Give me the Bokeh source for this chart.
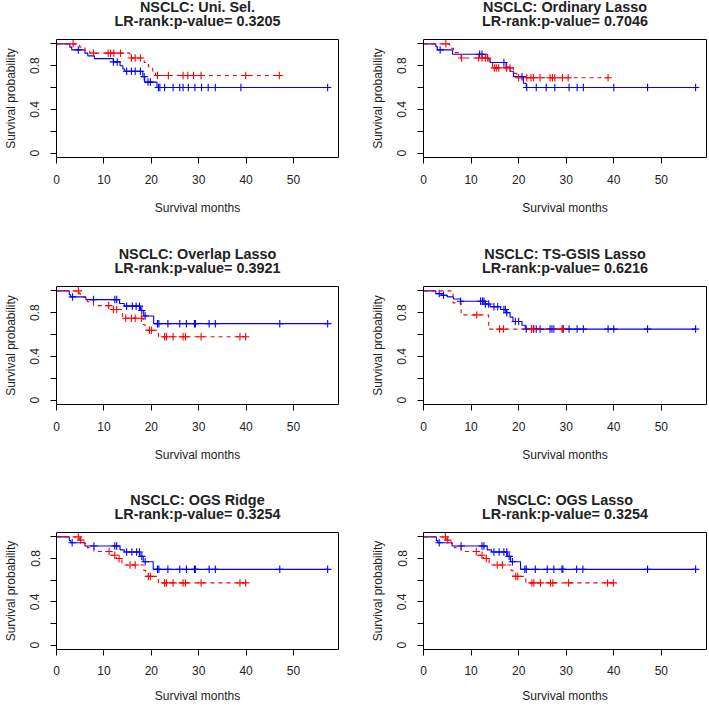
import numpy as np
from bokeh.plotting import figure
from bokeh.models import Range1d, FixedTicker
from bokeh.layouts import column, row
from bokeh.core.properties import value
from bokeh.embed import file_html
from bokeh.resources import INLINE

FONT = "Liberation Sans"
TEXT_COLOR = "#222222"

panel_names = ["NSCLC: Uni. Sel.", "NSCLC: Ordinary Lasso", "NSCLC: Overlap Lasso",
               "NSCLC: TS-GSIS Lasso", "NSCLC: OGS Ridge", "NSCLC: OGS Lasso"]
p_values = ["0.3205", "0.7046", "0.3921", "0.6216", "0.3254", "0.3254"]

x_ticks = [0, 10, 20, 30, 40, 50]
y_label_ticks = [0.0, 0.4, 0.8]
y_other_ticks = [0.2, 0.6, 1.0]
x_max = 57.2

# ---- Panel 1: Uni. Sel.
uni_blue_t = [2.8, 3.2, 6.0, 6.6, 8.0, 12.0, 13.4, 14.0, 14.4, 18.2, 18.6, 21.2]
uni_blue_s = [0.97, 0.945, 0.915, 0.89, 0.865, 0.835, 0.80, 0.77, 0.75, 0.70, 0.65, 0.60]
uni_blue_c = [4.6, 12.0, 12.8, 14.8, 15.8, 16.6, 17.7, 18.5, 19.3, 19.8, 21.5, 21.8, 22.8,
              24.6, 26.0, 26.7, 27.8, 29.2, 30.6, 32.0, 33.5, 38.9, 57.2]
uni_red_t = [4.9, 6.0, 7.0, 15.5, 18.5, 19.4, 20.3, 20.9]
uni_red_s = [0.97, 0.94, 0.915, 0.87, 0.83, 0.79, 0.75, 0.71]
uni_red_c = [3.5, 7.8, 10.9, 11.4, 12.1, 13.5, 15.8, 16.6, 17.7, 21.3, 23.6, 26.7, 27.7,
             28.9, 30.5, 39.9, 47.0]

# ---- Panel 2: Ordinary Lasso
ord_blue_t = [2.6, 2.9, 6.1, 13.4, 14.0, 17.4, 18.2, 18.9, 21.0, 21.6]
ord_blue_s = [0.975, 0.945, 0.905, 0.865, 0.83, 0.785, 0.75, 0.70, 0.64, 0.60]
ord_blue_c = [3.5, 11.8, 12.3, 16.9, 17.4, 20.7, 21.7, 23.7, 25.8, 27.6, 30.6, 32.3, 33.6,
              40.0, 47.1, 57.2]
ord_red_t = [5.5, 6.3, 7.9, 13.8, 14.5, 18.9, 19.6]
ord_red_s = [0.96, 0.92, 0.87, 0.83, 0.78, 0.73, 0.69]
ord_red_c = [4.7, 8.0, 11.6, 12.3, 13.0, 13.5, 14.9, 15.3, 15.8, 17.5, 18.2, 20.0, 21.7,
             22.6, 23.1, 24.5, 26.6, 27.1, 27.6, 29.2, 30.4, 38.8]

# ---- Panel 3: Overlap Lasso
ovl_blue_t = [2.7, 3.0, 6.2, 13.3, 14.3, 17.7, 18.4, 20.5]
ovl_blue_s = [0.965, 0.945, 0.92, 0.885, 0.86, 0.82, 0.77, 0.70]
ovl_blue_c = [3.4, 7.8, 12.3, 12.7, 14.8, 16.0, 16.8, 17.5, 18.0, 18.7, 21.3, 21.6, 23.5,
              26.0, 27.4, 29.1, 29.3, 32.2, 33.5, 47.1, 57.2]
ovl_red_t = [4.9, 5.6, 6.5, 7.8, 11.4, 13.9, 18.3, 18.7, 21.5]
ovl_red_s = [0.97, 0.94, 0.90, 0.865, 0.83, 0.75, 0.69, 0.64, 0.58]
ovl_red_c = [4.6, 11.0, 12.0, 12.7, 14.6, 15.8, 16.6, 17.9, 19.6, 20.0, 22.8, 23.2, 24.6,
             26.7, 27.2, 30.5, 38.7, 39.9]

# ---- Panel 4: TS-GSIS Lasso
tsg_blue_t = [2.6, 3.8, 5.0, 6.3, 7.8, 13.0, 14.0, 16.2, 17.5, 18.2, 18.8, 20.7, 21.4]
tsg_blue_s = [0.975, 0.96, 0.945, 0.925, 0.905, 0.88, 0.855, 0.83, 0.80, 0.76, 0.72, 0.685, 0.65]
tsg_blue_c = [3.3, 4.2, 7.8, 12.0, 12.4, 12.7, 13.0, 13.7, 14.8, 15.6, 16.9, 17.2, 17.5,
              19.3, 20.0, 21.6, 22.7, 23.1, 23.7, 24.5, 26.6, 27.0, 27.4, 29.4, 30.6,
              32.3, 33.6, 38.8, 40.0, 47.1, 57.2]
tsg_red_t = [6.2, 7.9, 13.7]
tsg_red_s = [0.89, 0.78, 0.65]
tsg_red_c = [11.2, 16.0, 16.8, 22.7, 23.2, 29.1, 29.3]

# ---- Panels 5 and 6: OGS Ridge / OGS Lasso
ogs_blue_t = [2.7, 3.0, 6.0, 13.4, 14.3, 17.6, 18.3, 20.4]
ogs_blue_s = [0.965, 0.945, 0.915, 0.88, 0.86, 0.82, 0.77, 0.70]
ogs_blue_c = [3.3, 7.9, 12.3, 12.7, 14.8, 15.9, 16.9, 17.5, 18.0, 18.7, 21.3, 21.6, 23.5,
              26.0, 27.4, 29.1, 29.3, 32.2, 33.5, 47.1, 57.2]
ogs_red_t = [4.9, 5.8, 6.5, 7.9, 11.3, 12.6, 13.8, 18.4, 18.8, 21.5]
ogs_red_s = [0.97, 0.94, 0.90, 0.865, 0.83, 0.80, 0.74, 0.69, 0.635, 0.575]
ogs_red_c = [4.6, 5.1, 11.1, 12.3, 13.2, 15.5, 16.6, 19.4, 19.8, 22.8, 23.2, 24.6, 26.7,
             27.2, 30.5, 38.7, 39.9]

curves = [
    (uni_blue_t, uni_blue_s, uni_blue_c, uni_red_t, uni_red_s, uni_red_c),
    (ord_blue_t, ord_blue_s, ord_blue_c, ord_red_t, ord_red_s, ord_red_c),
    (ovl_blue_t, ovl_blue_s, ovl_blue_c, ovl_red_t, ovl_red_s, ovl_red_c),
    (tsg_blue_t, tsg_blue_s, tsg_blue_c, tsg_red_t, tsg_red_s, tsg_red_c),
    (ogs_blue_t, ogs_blue_s, ogs_blue_c, ogs_red_t, ogs_red_s, ogs_red_c),
    (ogs_blue_t, ogs_blue_s, ogs_blue_c, ogs_red_t, ogs_red_s, ogs_red_c),
]

X_END = x_max * 1.04
Y_START, Y_END = -0.04, 1.04

# layout (pixels)
STRIP_H = 38                  # title strip height
TITLE_LINE_Y = (32, 18)       # line centres above the strip bottom
COLS = [dict(width=354, ml=56, mr=16), dict(width=355, ml=69, mr=3)]
ROWS = [dict(h=209, mb=90, xs1=11, xs2=14),
        dict(h=208, mb=89, xs1=11, xs2=14),
        dict(h=174, mb=56, xs1=10, xs2=11)]


def km_value(times, surv, at):
    times = np.asarray(times)
    surv = np.concatenate([[1.0], np.asarray(surv)])
    idx = np.searchsorted(times, np.asarray(at), side="right")
    return surv[idx]


def draw_curve(p, times, surv, cens, color, dash):
    end = max(max(cens), max(times))
    xs = [0.0] + list(times) + [end]
    ys = [1.0] + list(surv) + [surv[-1]]
    p.step(xs, ys, mode="after", line_color=color, line_width=1.1, line_dash=dash)
    p.scatter(cens, km_value(times, surv, cens), marker="cross", size=7.5,
              line_color=color, line_width=1.1)


def make_title(i, col):
    t = figure(width=col["width"], height=STRIP_H, title=None,
               x_range=Range1d(0, X_END), y_range=Range1d(0, STRIP_H),
               min_border_left=col["ml"], min_border_right=col["mr"],
               min_border_top=0, min_border_bottom=0,
               x_axis_location=None, y_axis_location=None,
               output_backend="svg", toolbar_location=None,
               background_fill_color="white", border_fill_color="white")
    t.outline_line_color = None
    t.xgrid.visible = False
    t.ygrid.visible = False
    t.text(x=[X_END / 2, X_END / 2], y=list(TITLE_LINE_Y),
           text=[panel_names[i], "LR-rank:p-value= " + p_values[i]],
           text_align="center", text_baseline="middle",
           text_font=value(FONT), text_font_size=value("14.4px"),
           text_font_style="bold", text_color=TEXT_COLOR)
    return t


def make_panel(i, col, rw):
    p = figure(width=col["width"], height=rw["h"], title=None,
               x_range=Range1d(0, X_END), y_range=Range1d(Y_START, Y_END),
               min_border_left=col["ml"], min_border_right=col["mr"],
               min_border_top=1, min_border_bottom=rw["mb"],
               output_backend="svg", toolbar_location=None,
               background_fill_color="white", border_fill_color="white")
    p.xgrid.visible = False
    p.ygrid.visible = False
    p.outline_line_color = "black"
    p.outline_line_width = 1
    p.outline_line_alpha = 1.0

    p.xaxis.ticker = FixedTicker(ticks=x_ticks)
    p.yaxis.ticker = FixedTicker(ticks=y_label_ticks, minor_ticks=y_other_ticks)
    for ax in (p.xaxis[0], p.yaxis[0]):
        ax.axis_line_color = None
        ax.major_tick_in = 0
        ax.major_tick_out = 6
        ax.major_tick_line_color = "black"
        ax.major_label_text_font = FONT
        ax.major_label_text_font_size = "12px"
        ax.major_label_text_color = TEXT_COLOR
        ax.axis_label_text_font = FONT
        ax.axis_label_text_font_size = "12px"
        ax.axis_label_text_font_style = "normal"
        ax.axis_label_text_color = TEXT_COLOR
    p.xaxis.major_label_standoff = rw["xs1"]
    p.xaxis.axis_label_standoff = rw["xs2"]
    p.yaxis.major_label_standoff = 11
    p.yaxis.axis_label_standoff = 10
    p.xaxis.minor_tick_line_color = None
    p.yaxis.minor_tick_in = 0
    p.yaxis.minor_tick_out = 6
    p.yaxis.minor_tick_line_color = "black"
    p.yaxis.major_label_orientation = "vertical"
    p.xaxis.axis_label = "Survival months"
    p.yaxis.axis_label = "Survival probability"

    bt, bs, bc, rt, rs, rc = curves[i]
    draw_curve(p, bt, bs, bc, "#0000FF", "solid")
    draw_curve(p, rt, rs, rc, "#FF0000", "4 4")
    return p


rows = []
for r, rw in enumerate(ROWS):
    cells = []
    for c, col in enumerate(COLS):
        i = 2 * r + c
        cells.append(column(make_title(i, col), make_panel(i, col, rw)))
    rows.append(row(*cells))

layout = column(*rows)
open("out.html", "w").write(file_html(layout, INLINE))
